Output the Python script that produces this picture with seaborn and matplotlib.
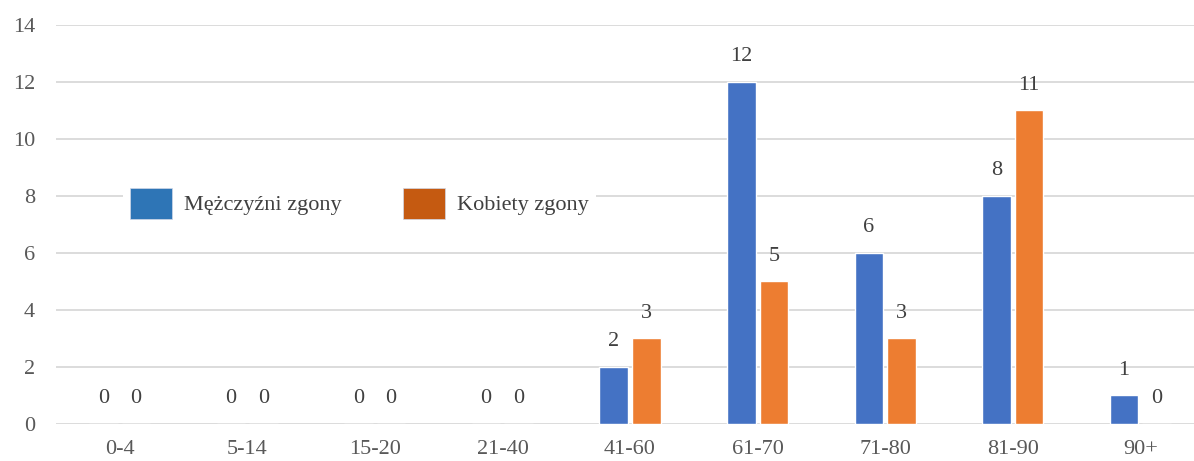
import matplotlib
matplotlib.use("Agg")
import matplotlib.pyplot as plt
from matplotlib.patches import Patch
import seaborn as sns
import pandas as pd

# --- Dane ---
grupy = ["0-4", "5-14", "15-20", "21-40", "41-60", "61-70", "71-80", "81-90", "90+"]
mezczyzni = [0, 0, 0, 0, 2, 12, 6, 8, 1]
kobiety = [0, 0, 0, 0, 3, 5, 3, 11, 0]
serie = ["Mężczyźni zgony", "Kobiety zgony"]

kolory_slupkow = ["#4472C4", "#ED7D31"]
kolory_legendy = ["#2E75B6", "#C55A11"]

df = pd.DataFrame({
    "grupa": grupy * 2,
    "zgony": mezczyzni + kobiety,
    "seria": [serie[0]] * len(grupy) + [serie[1]] * len(grupy),
})

# --- Styl ---
sns.set_style("white")
plt.rcParams["font.family"] = ["Liberation Serif", "DejaVu Serif"]

fig = plt.figure(figsize=(11.94, 4.61), dpi=100)
ax = fig.add_axes([56 / 1194, (461 - 423.5) / 461, (1194 - 56) / 1194, (423.5 - 24.5) / 461])

sns.barplot(data=df, x="grupa", y="zgony", hue="seria", palette=kolory_slupkow,
            width=0.51, gap=0.12, saturation=1, ax=ax, legend=False)

for cont in ax.containers:
    ax.bar_label(cont, padding=11, fontsize=16, color="#404040")

ax.set_ylim(0, 14)
ax.set_xlim(-0.5, 8.5 - 10 / 127.5)
ax.set_yticks(range(0, 15, 2))
ax.grid(axis="y", color="#D9D9D9", linewidth=1.3)
ax.set_axisbelow(True)
for s in ax.spines.values():
    s.set_visible(False)
ax.set_xlabel("")
ax.set_ylabel("")
ax.tick_params(axis="both", length=0, labelsize=16, labelcolor="#595959")
ax.tick_params(axis="x", pad=12)
ax.tick_params(axis="y", pad=15)

# Legenda
uchwyty = [Patch(facecolor=c, edgecolor="#D0D8E8", linewidth=0.5) for c in kolory_legendy]
leg = ax.legend(uchwyty, serie, loc="center left", bbox_to_anchor=(0.049, 0.552),
                ncol=2, frameon=True, fontsize=16, handlelength=1.9, handleheight=1.75,
                handletextpad=0.55, columnspacing=2.75, borderpad=0.3, labelcolor="#404040")
leg.get_frame().set_facecolor("white")
leg.get_frame().set_edgecolor("none")
leg.get_frame().set_alpha(1)

plt.savefig("out.png", dpi=100)
